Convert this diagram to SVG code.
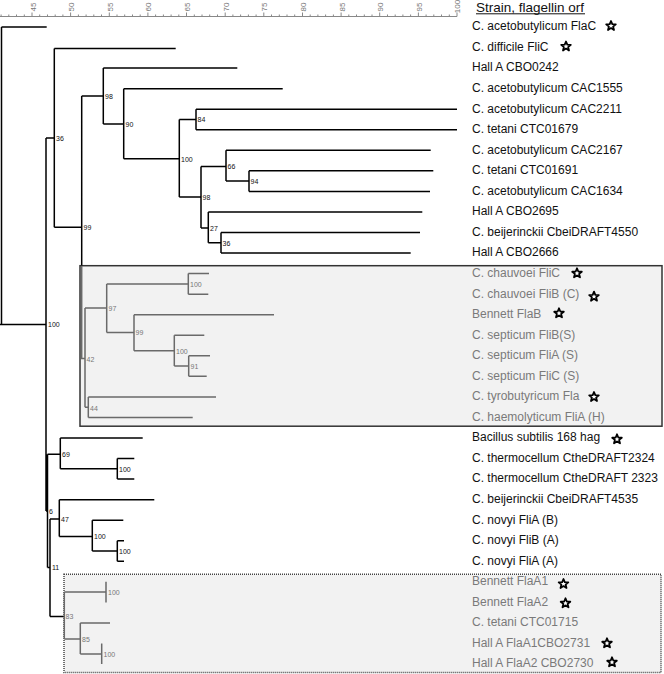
<svg xmlns="http://www.w3.org/2000/svg" width="664" height="674" viewBox="0 0 664 674">
<style>
.lab{font-family:"Liberation Sans",Arial,sans-serif;font-size:12px;fill:#111}
.glab{font-family:"Liberation Sans",Arial,sans-serif;font-size:12px;fill:#7a7a7a}
.bs{font-family:"Liberation Sans",Arial,sans-serif;font-size:7px;fill:#111}
.gbs{font-family:"Liberation Sans",Arial,sans-serif;font-size:7px;fill:#777}
.ax{font-family:"Liberation Sans",Arial,sans-serif;font-size:8px;fill:#777}
.br{fill:none;stroke:#000;stroke-width:1.5}
.gbr{fill:none;stroke:#6a6a6a;stroke-width:1.5}
.star{fill:#fff;stroke:#000;stroke-width:1.8;stroke-linejoin:round}
</style>
<defs>
<polygon id="st" points="0,-5 1.3,-1.8 4.8,-1.6 2.1,0.6 3,4 0,2.1 -3,4 -2.1,0.6 -4.8,-1.6 -1.3,-1.8"/>
</defs>
<rect width="664" height="674" fill="#fff"/>

<g id="axis">
<line x1="0" y1="16.5" x2="457" y2="16.5" stroke="#888" stroke-width="1"/>
<path stroke="#888" stroke-width="1" fill="none" d="M1.1,16.5v-2M8.8,16.5v-2M16.5,16.5v-2M24.3,16.5v-2M32,16.5v-4M39.7,16.5v-2M47.5,16.5v-2M55.2,16.5v-2M62.9,16.5v-2M70.6,16.5v-4M78.4,16.5v-2M86.1,16.5v-2M93.8,16.5v-2M101.5,16.5v-2M109.3,16.5v-4M117,16.5v-2M124.7,16.5v-2M132.5,16.5v-2M140.2,16.5v-2M147.9,16.5v-4M155.6,16.5v-2M163.4,16.5v-2M171.1,16.5v-2M178.8,16.5v-2M186.5,16.5v-4M194.3,16.5v-2M202,16.5v-2M209.7,16.5v-2M217.5,16.5v-2M225.2,16.5v-4M232.9,16.5v-2M240.6,16.5v-2M248.4,16.5v-2M256.1,16.5v-2M263.8,16.5v-4M271.5,16.5v-2M279.3,16.5v-2M287,16.5v-2M294.7,16.5v-2M302.5,16.5v-4M310.2,16.5v-2M317.9,16.5v-2M325.6,16.5v-2M333.4,16.5v-2M341.1,16.5v-4M348.8,16.5v-2M356.5,16.5v-2M364.3,16.5v-2M372,16.5v-2M379.7,16.5v-4M387.5,16.5v-2M395.2,16.5v-2M402.9,16.5v-2M410.6,16.5v-2M418.4,16.5v-4M426.1,16.5v-2M433.8,16.5v-2M441.5,16.5v-2M449.3,16.5v-2M457,16.5v-4"/>
<text class="ax" transform="translate(35.5,11.5) rotate(-90)">45</text>
<text class="ax" transform="translate(74.1,11.5) rotate(-90)">50</text>
<text class="ax" transform="translate(112.8,11.5) rotate(-90)">55</text>
<text class="ax" transform="translate(151.4,11.5) rotate(-90)">60</text>
<text class="ax" transform="translate(190,11.5) rotate(-90)">65</text>
<text class="ax" transform="translate(228.7,11.5) rotate(-90)">70</text>
<text class="ax" transform="translate(267.3,11.5) rotate(-90)">75</text>
<text class="ax" transform="translate(306,11.5) rotate(-90)">80</text>
<text class="ax" transform="translate(344.6,11.5) rotate(-90)">85</text>
<text class="ax" transform="translate(383.2,11.5) rotate(-90)">90</text>
<text class="ax" transform="translate(421.9,11.5) rotate(-90)">95</text>
<text class="ax" font-size="7.5" transform="translate(460.3,13.2) rotate(-90)">100</text>
</g>

<g id="title">
<text x="476" y="11.5" font-family="Liberation Sans,Arial,sans-serif" font-size="13.5" fill="#111">Strain, flagellin orf</text>
<line x1="476" y1="13.8" x2="585" y2="13.8" stroke="#111" stroke-width="1"/>
</g>

<g id="box1"><rect x="80" y="265.7" width="582" height="160.5" fill="#f2f2f2" stroke="#333" stroke-width="1.5"/></g>
<g id="box2"><rect x="64" y="574.3" width="597" height="98.3" fill="#f2f2f2" stroke="#444" stroke-width="1.5" stroke-dasharray="1,1"/></g>

<g id="connectors">
<path class="br" d="M0,324.5H46M1.5,27V324.5M1.5,27H46.7
M46,138V511M46,138H54.3M46,511H47.5
M54.3,48.5V227.3M54.3,48.5H175.7M54.3,227.3H81.7
M81.7,96V265.7M81.7,96H103.3
M103.3,68.1V123.9M103.3,68.1H237.3M103.3,123.9H123.7
M123.7,88.65V158.7M123.7,88.65H282.7M123.7,158.7H179.3
M179.3,119.5V197M179.3,119.5H196M179.3,197H201
M196,109.2V129.75M196,109.2H457M196,129.75H457
M201,166.5V227.9M201,166.5H226M201,227.9H208.3
M226,150.3V181.1M226,150.3H430.7M226,181.1H249
M249,170.85V191.4M249,170.85H433.3M249,191.4H430
M208.3,211.95V242.8M208.3,211.95H422.3M208.3,242.8H221
M221,232.5V253.05M221,232.5H420M221,253.05H410.7
M47.5,454.3V567.5M47.5,454.3H60.3M47.5,567.5H50
M60.3,438V468.8M60.3,438H142.7M60.3,468.8H117.3
M117.3,458.55V479.1M117.3,458.55H134.3M117.3,479.1H134.3
M50,519V616.5M50,519H59.3M50,616.5H64.3
M59.3,499.65V536.5M59.3,499.65H154.3M59.3,536.5H92.3
M92.3,520.2V551M92.3,520.2H123.3M92.3,551H117.3
M117.3,540.75V561.3M117.3,540.75H124M117.3,561.3H124"/>
<path class="gbr" d="M81.7,265.7V358.5H85
M85,308V407.2M85,308H106.7M85,407.2H88.3
M106.7,283.9V332.6M106.7,283.9H188.3M106.7,332.6H134
M188.3,273.6V294.15M188.3,273.6H209M188.3,294.15H208.3
M134,314.7V350.7M134,314.7H274M134,350.7H174.3
M174.3,335.25V366.1M174.3,335.25H204.3M174.3,366.1H188.7
M188.7,355.8V376.35M188.7,355.8H210M188.7,376.35H206.7
M88.3,396.9V417.45M88.3,396.9H216M88.3,417.45H192.7
M64.3,592.1V639M64.3,592.1H106M64.3,639H80.3
M106,581.85V602.4
M80.3,622.95V654M80.3,622.95H110M80.3,654H101.7
M101.7,643.5V664.05"/>
</g>

<g id="bootstrap">
<text class="bs" x="48" y="327">100</text>
<text class="bs" x="56" y="140.5">36</text>
<text class="bs" x="83.5" y="230">99</text>
<text class="bs" x="105" y="98.5">98</text>
<text class="bs" x="125.5" y="126.5">90</text>
<text class="bs" x="181" y="161.5">100</text>
<text class="bs" x="197.5" y="122">84</text>
<text class="bs" x="202.5" y="200">98</text>
<text class="bs" x="227.5" y="169">66</text>
<text class="bs" x="250.5" y="184">94</text>
<text class="bs" x="210" y="230.5">27</text>
<text class="bs" x="222.5" y="245.5">36</text>
<text class="gbs" x="190" y="286.5">100</text>
<text class="gbs" x="108.5" y="311">97</text>
<text class="gbs" x="135.5" y="335">99</text>
<text class="gbs" x="176" y="353.5">100</text>
<text class="gbs" x="190.5" y="369">91</text>
<text class="gbs" x="86.5" y="361.5">42</text>
<text class="gbs" x="90" y="411">44</text>
<text class="bs" x="62" y="457">69</text>
<text class="bs" x="119" y="471.5">100</text>
<text class="bs" x="49" y="513.5">6</text>
<text class="bs" x="61" y="521.5">47</text>
<text class="bs" x="94" y="539">100</text>
<text class="bs" x="119" y="554">100</text>
<text class="bs" x="52" y="570">11</text>
<text class="gbs" x="65.5" y="619">83</text>
<text class="gbs" x="108" y="595">100</text>
<text class="gbs" x="82" y="642">85</text>
<text class="gbs" x="103.5" y="656.5">100</text>
</g>

<g id="labels">
<g id="n0"><text class="lab" x="472" y="30.3">C. acetobutylicum FlaC</text><use href="#st" class="star" x="611" y="26"/></g>
<g id="n1"><text class="lab" x="472" y="50.9">C. difficile FliC</text><use href="#st" class="star" x="566" y="46.5"/></g>
<g id="n2"><text class="lab" x="472" y="71.4">Hall A CBO0242</text></g>
<g id="n3"><text class="lab" x="472" y="92">C. acetobutylicum CAC1555</text></g>
<g id="n4"><text class="lab" x="472" y="112.5">C. acetobutylicum CAC2211</text></g>
<g id="n5"><text class="lab" x="472" y="133.1">C. tetani CTC01679</text></g>
<g id="n6"><text class="lab" x="472" y="153.6">C. acetobutylicum CAC2167</text></g>
<g id="n7"><text class="lab" x="472" y="174.2">C. tetani CTC01691</text></g>
<g id="n8"><text class="lab" x="472" y="194.7">C. acetobutylicum CAC1634</text></g>
<g id="n9"><text class="lab" x="472" y="215.3">Hall A CBO2695</text></g>
<g id="n10"><text class="lab" x="472" y="235.8">C. beijerinckii CbeiDRAFT4550</text></g>
<g id="n11"><text class="lab" x="472" y="256.4">Hall A CBO2666</text></g>
<g id="n12"><text class="glab" x="472" y="276.9">C. chauvoei FliC</text><use href="#st" class="star" x="577" y="273.3"/></g>
<g id="n13"><text class="glab" x="472" y="297.5">C. chauvoei FliB (C)</text><use href="#st" class="star" x="594" y="296.7"/></g>
<g id="n14"><text class="glab" x="472" y="318">Bennett FlaB</text><use href="#st" class="star" x="559" y="313.3"/></g>
<g id="n15"><text class="glab" x="472" y="338.6">C. septicum FliB(S)</text></g>
<g id="n16"><text class="glab" x="472" y="359.1">C. septicum FliA (S)</text></g>
<g id="n17"><text class="glab" x="472" y="379.7">C. septicum FliC (S)</text></g>
<g id="n18"><text class="glab" x="472" y="400.2">C. tyrobutyricum Fla</text><use href="#st" class="star" x="594" y="397"/></g>
<g id="n19"><text class="glab" x="472" y="420.8">C. haemolyticum FliA (H)</text></g>
<g id="n20"><text class="lab" x="472" y="441.3">Bacillus subtilis 168 hag</text><use href="#st" class="star" x="617" y="439.3"/></g>
<g id="n21"><text class="lab" x="472" y="461.9">C. thermocellum CtheDRAFT2324</text></g>
<g id="n22"><text class="lab" x="472" y="482.4">C. thermocellum CtheDRAFT 2323</text></g>
<g id="n23"><text class="lab" x="472" y="503">C. beijerinckii CbeiDRAFT4535</text></g>
<g id="n24"><text class="lab" x="472" y="523.5">C. novyi FliA (B)</text></g>
<g id="n25"><text class="lab" x="472" y="544.1">C. novyi FliB (A)</text></g>
<g id="n26"><text class="lab" x="472" y="564.6">C. novyi FliA (A)</text></g>
<g id="n27"><text class="glab" x="472" y="585.2">Bennett FlaA1</text><use href="#st" class="star" x="563.5" y="584"/></g>
<g id="n28"><text class="glab" x="472" y="605.7">Bennett FlaA2</text><use href="#st" class="star" x="565.5" y="603.3"/></g>
<g id="n29"><text class="glab" x="472" y="626.3">C. tetani CTC01715</text></g>
<g id="n30"><text class="glab" x="472" y="646.8">Hall A FlaA1CBO2731</text><use href="#st" class="star" x="607" y="643.3"/></g>
<g id="n31"><text class="glab" x="472" y="667.4">Hall A FlaA2 CBO2730</text><use href="#st" class="star" x="612" y="662.3"/></g>
</g>
</svg>
